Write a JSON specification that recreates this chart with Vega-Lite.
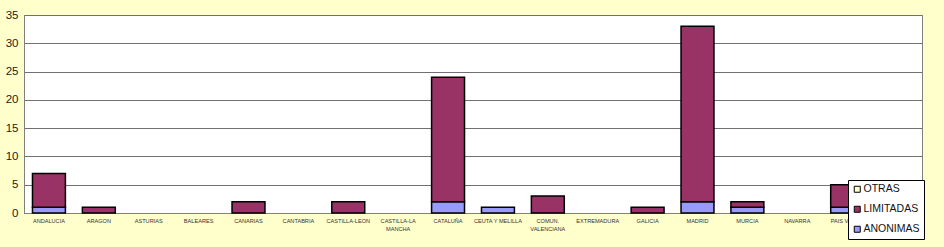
{
  "$schema": "https://vega.github.io/schema/vega-lite/v6.json",
  "width": 898,
  "height": 198,
  "autosize": {"type": "none"},
  "padding": {"left": 24, "top": 15, "right": 22, "bottom": 34},
  "background": "#FFFFCC",
  "config": {
    "font": "Liberation Sans",
    "view": {"fill": "white", "stroke": "#808080", "strokeWidth": 1}
  },
  "data": {
    "values": [
      {"region": "ANDALUCIA", "tipo": "ANONIMAS", "n": 1},
      {"region": "ANDALUCIA", "tipo": "LIMITADAS", "n": 6},
      {"region": "ARAGON", "tipo": "LIMITADAS", "n": 1},
      {"region": "ASTURIAS", "tipo": "LIMITADAS", "n": 0},
      {"region": "BALEARES", "tipo": "LIMITADAS", "n": 0},
      {"region": "CANARIAS", "tipo": "LIMITADAS", "n": 2},
      {"region": "CANTABRIA", "tipo": "LIMITADAS", "n": 0},
      {"region": "CASTILLA-LEON", "tipo": "LIMITADAS", "n": 2},
      {"region": "CASTILLA-LA MANCHA", "tipo": "LIMITADAS", "n": 0},
      {"region": "CATALUÑA", "tipo": "ANONIMAS", "n": 2},
      {"region": "CATALUÑA", "tipo": "LIMITADAS", "n": 22},
      {"region": "CEUTA Y MELILLA", "tipo": "ANONIMAS", "n": 1},
      {"region": "COMUN. VALENCIANA", "tipo": "LIMITADAS", "n": 3},
      {"region": "EXTREMADURA", "tipo": "LIMITADAS", "n": 0},
      {"region": "GALICIA", "tipo": "LIMITADAS", "n": 1},
      {"region": "MADRID", "tipo": "ANONIMAS", "n": 2},
      {"region": "MADRID", "tipo": "LIMITADAS", "n": 31},
      {"region": "MURCIA", "tipo": "ANONIMAS", "n": 1},
      {"region": "MURCIA", "tipo": "LIMITADAS", "n": 1},
      {"region": "NAVARRA", "tipo": "LIMITADAS", "n": 0},
      {"region": "PAIS VASCO", "tipo": "ANONIMAS", "n": 1},
      {"region": "PAIS VASCO", "tipo": "LIMITADAS", "n": 4},
      {"region": "RIOJA", "tipo": "LIMITADAS", "n": 0}
    ]
  },
  "transform": [{"filter": "datum.n > 0"}],
  "mark": {"type": "bar", "stroke": "black", "strokeWidth": 1.5},
  "encoding": {
    "x": {
      "field": "region",
      "type": "nominal",
      "sort": ["ANDALUCIA","ARAGON","ASTURIAS","BALEARES","CANARIAS","CANTABRIA","CASTILLA-LEON","CASTILLA-LA MANCHA","CATALUÑA","CEUTA Y MELILLA","COMUN. VALENCIANA","EXTREMADURA","GALICIA","MADRID","MURCIA","NAVARRA","PAIS VASCO","RIOJA"],
      "scale": {"domain": ["ANDALUCIA","ARAGON","ASTURIAS","BALEARES","CANARIAS","CANTABRIA","CASTILLA-LEON","CASTILLA-LA MANCHA","CATALUÑA","CEUTA Y MELILLA","COMUN. VALENCIANA","EXTREMADURA","GALICIA","MADRID","MURCIA","NAVARRA","PAIS VASCO","RIOJA"], "paddingInner": 0.34, "paddingOuter": 0.17},
      "axis": {
        "title": null,
        "labelAngle": 0,
        "labelFontSize": 5.6,
        "labelColor": "#333333",
        "labelPadding": 5,
        "ticks": false,
        "domainColor": "#808080",
        "labelExpr": "datum.value == 'CASTILLA-LA MANCHA' ? ['CASTILLA-LA', 'MANCHA'] : (datum.value == 'COMUN. VALENCIANA' ? ['COMUN.', 'VALENCIANA'] : datum.value)",
        "labelLineHeight": 8
      }
    },
    "y": {
      "field": "n",
      "type": "quantitative",
      "aggregate": "sum",
      "stack": "zero",
      "scale": {"domain": [0, 35], "nice": false},
      "axis": {
        "title": null,
        "values": [0,5,10,15,20,25,30,35],
        "labelFontSize": 11.5,
        "labelColor": "#222222",
        "labelPadding": 6,
        "ticks": false,
        "domainColor": "#808080",
        "gridColor": "#707070",
        "gridOpacity": 1,
        "gridWidth": 1
      }
    },
    "color": {
      "field": "tipo",
      "type": "nominal",
      "scale": {"domain": ["OTRAS","LIMITADAS","ANONIMAS"], "range": ["#FFFFCC","#993366","#9999FF"]},
      "legend": {
        "title": null,
        "orient": "none",
        "legendX": 824,
        "legendY": 165,
        "fillColor": "white",
        "strokeColor": "black",
        "padding": 4,
        "labelFontSize": 10.5,
        "labelColor": "#111111",
        "symbolType": "square",
        "symbolSize": 36,
        "symbolStrokeColor": "black",
        "symbolStrokeWidth": 1,
        "rowPadding": 9,
        "labelOffset": 1
      }
    },
    "order": {"field": "tipo", "sort": "ascending"}
  }
}
